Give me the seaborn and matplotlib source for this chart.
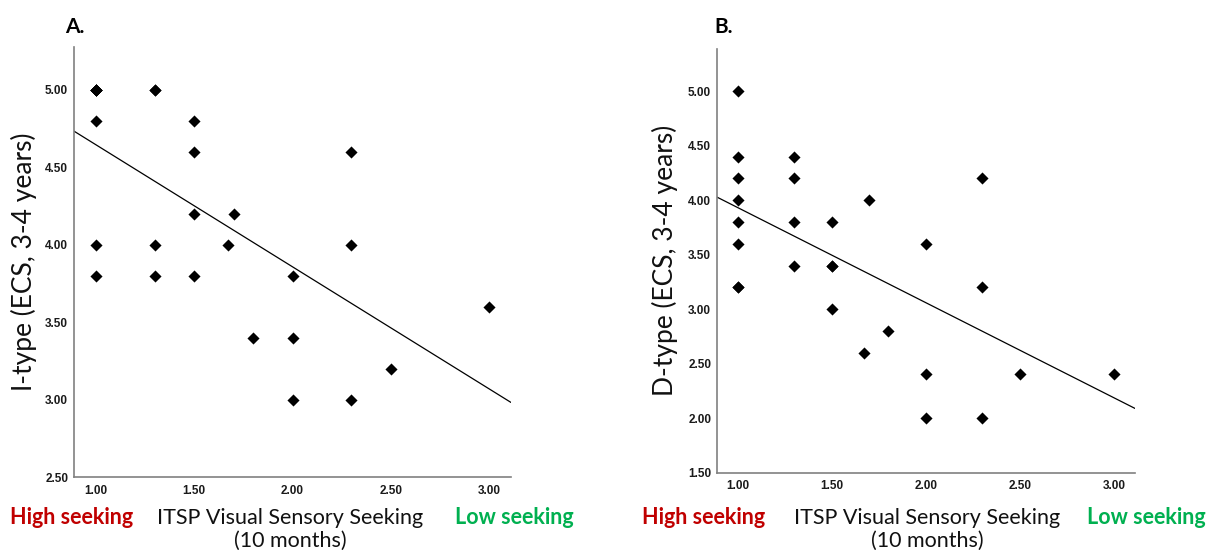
import matplotlib
matplotlib.use("Agg")
import matplotlib.pyplot as plt
import seaborn as sns
import pandas as pd

sns.set_theme(style="white")
plt.rcParams['font.family'] = ['Lato', 'DejaVu Sans']

# Panel A: I-type (last five values overlap visible markers)
a_x = [1.00, 1.30, 1.00, 1.50, 1.50, 2.30, 1.50, 1.70, 1.00, 1.30, 1.67,
       2.30, 1.00, 1.30, 1.50, 2.00, 3.00, 1.80, 2.00, 2.50, 2.00, 2.30,
       1.00, 1.00, 1.00, 1.00, 1.30]
a_y = [5.00, 5.00, 4.80, 4.80, 4.60, 4.60, 4.20, 4.20, 4.00, 4.00, 4.00,
       4.00, 3.80, 3.80, 3.80, 3.80, 3.60, 3.40, 3.40, 3.20, 3.00, 3.00,
       5.00, 5.00, 5.00, 5.00, 5.00]

# Panel B: D-type (last two values overlap visible markers)
b_x = [1.00, 1.00, 1.30, 1.00, 1.30, 2.30, 1.00, 1.70, 1.00, 1.30, 1.50,
       1.00, 2.00, 1.30, 1.50, 1.00, 2.30, 1.50, 1.80, 1.67, 2.00, 2.50,
       3.00, 2.00, 2.30, 1.00, 1.50]
b_y = [5.00, 4.40, 4.40, 4.20, 4.20, 4.20, 4.00, 4.00, 3.80, 3.80, 3.80,
       3.60, 3.60, 3.40, 3.40, 3.20, 3.20, 3.00, 2.80, 2.60, 2.40, 2.40,
       2.40, 2.00, 2.00, 3.20, 3.40]

x_ticks = [1.00, 1.50, 2.00, 2.50, 3.00]
a_yticks = [2.50, 3.00, 3.50, 4.00, 4.50, 5.00]
b_yticks = [1.50, 2.00, 2.50, 3.00, 3.50, 4.00, 4.50, 5.00]

df_a = pd.DataFrame({"x": a_x, "y": a_y})
df_b = pd.DataFrame({"x": b_x, "y": b_y})

W, H = 1218, 550
fig = plt.figure(figsize=(W / 100, H / 100), dpi=100)
ax_a = fig.add_axes([74 / W, (H - 477) / H, (511 - 74) / W, (477 - 47) / H])
ax_b = fig.add_axes([717 / W, (H - 472.5) / H, (1135 - 717) / W, (472.5 - 49) / H])

def style(ax, df, xlim, ylim, yticks, ylabel):
    ax.set_xlim(*xlim)
    ax.set_ylim(*ylim)
    sns.regplot(data=df, x="x", y="y", ax=ax, ci=None, truncate=False,
                marker="D",
                scatter_kws=dict(s=38, color="black", linewidths=0, alpha=1),
                line_kws=dict(color="black", linewidth=0.9))
    ax.set_xlim(*xlim)
    ax.set_ylim(*ylim)
    ax.set_xticks(x_ticks)
    ax.set_xticklabels([f"{v:.2f}" for v in x_ticks])
    ax.set_yticks(yticks)
    ax.set_yticklabels([f"{v:.2f}" for v in yticks])
    for lab in ax.get_xticklabels() + ax.get_yticklabels():
        lab.set_fontfamily("Liberation Sans")
        lab.set_fontweight("bold")
        lab.set_fontsize(8.5)
        lab.set_color("#1a1a1a")
    ax.tick_params(axis="x", length=0, pad=5.5)
    ax.tick_params(axis="y", length=0, pad=4.2)
    for s in ["top", "right"]:
        ax.spines[s].set_visible(False)
    for s in ["left", "bottom"]:
        ax.spines[s].set_color("#808080")
        ax.spines[s].set_linewidth(1.2)
    ax.set_xlabel("")
    ax.set_ylabel(ylabel, fontsize=19, color="#111111", va="center")

style(ax_a, df_a, (0.888, 3.112), (2.5, 5.277), a_yticks, "I-type (ECS, 3-4 years)")
style(ax_b, df_b, (0.890, 3.112), (1.5, 5.388), b_yticks, "D-type (ECS, 3-4 years)")
ax_a.yaxis.set_label_coords((24 - 74) / (511 - 74), 0.5)
ax_b.yaxis.set_label_coords((665 - 717) / (1135 - 717), 0.5)

def fx(px):
    return px / W

def fy(py):
    return 1 - py / H

fig.text(fx(65), fy(27), "A.", fontsize=15, fontweight="bold", ha="left", va="center", color="black")
fig.text(fx(714), fy(27), "B.", fontsize=15, fontweight="bold", ha="left", va="center", color="black")

for cx_high, cx_mid, cx_low in [(72, 290, 514), (704, 927, 1146)]:
    fig.text(fx(cx_high), fy(517), "High seeking", fontsize=15.5, fontweight="bold",
             color="#C00000", ha="center", va="center")
    fig.text(fx(cx_mid), fy(518), "ITSP Visual Sensory Seeking", fontsize=15.5,
             color="#111111", ha="center", va="center")
    fig.text(fx(cx_mid), fy(541), "(10 months)", fontsize=15.5,
             color="#111111", ha="center", va="center")
    fig.text(fx(cx_low), fy(517), "Low seeking", fontsize=15.5, fontweight="bold",
             color="#00B050", ha="center", va="center")

fig.savefig("out.png", dpi=100)
